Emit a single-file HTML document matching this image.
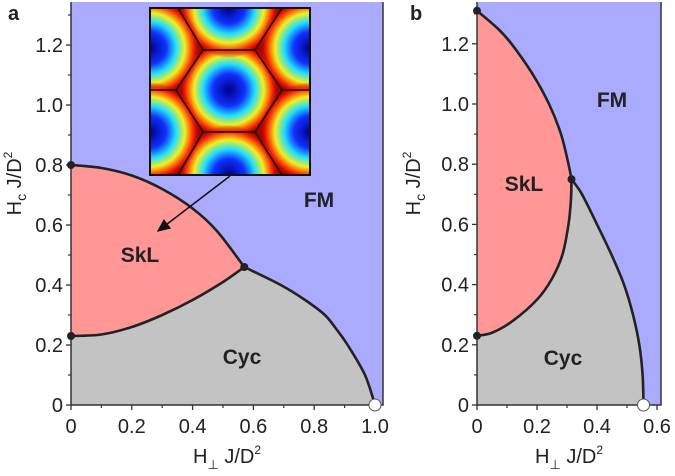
<!DOCTYPE html>
<html><head><meta charset="utf-8"><style>
body{margin:0;background:#fff;}
svg text{font-family:"Liberation Sans",Arial,sans-serif;fill:#222;}
</style></head><body>
<svg id="c" width="675" height="471" viewBox="0 0 675 471" xmlns="http://www.w3.org/2000/svg">
<defs>
<radialGradient id="sk">
<stop offset="0" stop-color="#00008a"/><stop offset="0.32" stop-color="#1030ff"/><stop offset="0.52" stop-color="#20e0ff"/><stop offset="0.7" stop-color="#f0f020"/><stop offset="0.86" stop-color="#ff3000"/><stop offset="1" stop-color="#b00000" stop-opacity="0"/>
</radialGradient>
<clipPath id="insclip"><rect x="150" y="8" width="160" height="167"/></clipPath>
<marker id="ah" markerWidth="10" markerHeight="10" refX="8" refY="5" orient="auto"><path d="M0,1 L9,5 L0,9 Z" fill="#111"/></marker>
</defs>
<g id="pa"></g>
<g id="pb"></g>
</svg>
<script>
// Panel a data
const aSklFmX=[0,0.1,0.2,0.3,0.4,0.48,0.57];
const aSklFmY=[0.8,0.79,0.765,0.72,0.655,0.58,0.46];
const aSklCycX=[0,0.1,0.2,0.3,0.4,0.5,0.57];
const aSklCycY=[0.23,0.235,0.26,0.3,0.35,0.41,0.46];
const aCycFmX=[0.57,0.69,0.77,0.835,0.875,0.91,0.967,1.0];
const aCycFmY=[0.46,0.4,0.35,0.3,0.25,0.2,0.1,0];
const aXTicks=["0","0.2","0.4","0.6","0.8","1.0"];
const aXTickVals=[0,0.2,0.4,0.6,0.8,1.0];
const aYTicks=["0","0.2","0.4","0.6","0.8","1.0","1.2"];
const aYTickVals=[0,0.2,0.4,0.6,0.8,1.0,1.2];
// Panel b data
const bSklFmX=[0,0.07,0.115,0.185,0.24,0.28,0.305,0.315];
const bSklFmY=[1.31,1.25,1.2,1.1,1.0,0.9,0.8,0.75];
const bSklCycX=[0,0.05,0.12,0.2,0.25,0.285,0.305,0.313,0.315];
const bSklCycY=[0.23,0.24,0.28,0.35,0.42,0.5,0.6,0.68,0.75];
const bCycFmX=[0.315,0.35,0.4,0.448,0.49,0.52,0.541,0.552,0.555];
const bCycFmY=[0.75,0.7,0.6,0.5,0.4,0.3,0.2,0.1,0];
const bXTicks=["0","0.2","0.4","0.6"];
const bXTickVals=[0,0.2,0.4,0.6];
const bYTicks=aYTicks, bYTickVals=aYTickVals;

const NS="http://www.w3.org/2000/svg";
function mk(p,t,a){const e=document.createElementNS(NS,t);for(const k in a)e.setAttribute(k,a[k]);p.appendChild(e);return e;}
function smooth(pts){let d="M"+pts[0][0]+","+pts[0][1];for(let i=1;i<pts.length;i++){const p0=pts[Math.max(i-2,0)],p1=pts[i-1],p2=pts[i],p3=pts[Math.min(i+1,pts.length-1)];d+=" C"+(p1[0]+(p2[0]-p0[0])/6)+","+(p1[1]+(p2[1]-p0[1])/6)+" "+(p2[0]-(p3[0]-p1[0])/6)+","+(p2[1]-(p3[1]-p1[1])/6)+" "+p2[0]+","+p2[1];}return d;}

function panel(g,o){
 const X=v=>o.x0+v*o.sx, Y=v=>o.y0-v*o.sy;
 const mp=(xs,ys)=>xs.map((v,i)=>[X(v),Y(ys[i])]);
 const fm=mp(o.fmX,o.fmY), sc=mp(o.scX,o.scY), cf=mp(o.cfX,o.cfY);
 let r=mk(g,"rect",{x:o.x0,y:o.top,width:o.right-o.x0,height:o.y0-o.top,fill:"#aaaaff"});
 
 const cycD=smooth(sc)+" "+smooth(cf).replace(/^M[^ ]+/,"")+" L"+X(0)+","+Y(0)+" Z";
 r=mk(g,"path",{d:cycD,fill:"#c3c3c3"});
 
 const sklD=smooth(fm)+" "+smooth(sc.slice().reverse()).replace(/^M[^ ]+/,"")+" Z";
 r=mk(g,"path",{d:sklD,fill:"#ff9797"});
 
 [[fm,'skl-fm-boundary'],[sc,'skl-cyc-boundary'],[cf,'cyc-fm-boundary']].forEach(([p,n])=>{
  const e=mk(g,"path",{d:smooth(p),fill:"none",stroke:"#222","stroke-width":2.6});
  
 });
 let ax=mk(g,"path",{d:`M${o.x0},${o.top} V${o.y0} H${o.right} V${o.top}`,fill:"none",stroke:"#333","stroke-width":1.5});
 
 o.xtv.forEach((v,i)=>{
  mk(g,"line",{x1:X(v),x2:X(v),y1:o.y0,y2:o.y0+5,stroke:"#333","stroke-width":1.3});
  if(i<o.xtv.length-1)mk(g,"line",{x1:X(v+0.1),x2:X(v+0.1),y1:o.y0,y2:o.y0+3,stroke:"#333","stroke-width":1.2});
  const t=mk(g,"text",{x:X(v),y:o.y0+28,"font-size":20,"text-anchor":"middle"});t.textContent=o.xt[i];
  
 });
 o.ytv.forEach((v,i)=>{
  mk(g,"line",{x1:o.x0-5,x2:o.x0,y1:Y(v),y2:Y(v),stroke:"#333","stroke-width":1.3});
  mk(g,"line",{x1:o.x0-3,x2:o.x0,y1:Y(v+0.1),y2:Y(v+0.1),stroke:"#333","stroke-width":1.2});
  const t=mk(g,"text",{x:o.x0-8,y:Y(v)+7,"font-size":20,"text-anchor":"end"});t.textContent=o.yt[i];
  
 });
 [fm[0],sc[0],fm[fm.length-1]].forEach(p=>{
  const e=mk(g,"circle",{cx:p[0],cy:p[1],r:4,fill:"#222"});
 });
 const e=mk(g,"circle",{cx:cf[cf.length-1][0],cy:cf[cf.length-1][1],r:6,fill:"#fff",stroke:"#555","stroke-width":1});
 
 [["FM",o.fmL],["SkL",o.sklL],["Cyc",o.cycL]].forEach(([s,p])=>{
  const t=mk(g,"text",{x:p[0],y:p[1],"font-size":21,"font-weight":"bold","text-anchor":"middle",fill:"#333"});t.textContent=s;
  
 });
 let t=mk(g,"text",{x:o.lx,y:20,"font-size":20,"font-weight":"bold"});t.textContent=o.letter;
 
 t=mk(g,"text",{x:(o.x0+o.right)/2,y:463,"font-size":20,"text-anchor":"middle"});
 t.innerHTML='H<tspan font-size="13" dy="6">⊥</tspan><tspan dy="-6"> J/D</tspan><tspan font-size="12" dy="-9">2</tspan>';
 
 const cy=(o.top+o.y0)/2-20;
 t=mk(g,"text",{x:0,y:0,"font-size":20,"text-anchor":"middle",transform:`translate(${o.ytx},${cy}) rotate(-90)`});
 t.innerHTML='H<tspan font-size="14" dy="5">c</tspan><tspan dy="-5"> J/D</tspan><tspan font-size="12" dy="-9">2</tspan>';
 
}
panel(document.getElementById("pa"),{x0:71,y0:405,sx:304,sy:300,top:2,right:383,
 fmX:aSklFmX,fmY:aSklFmY,scX:aSklCycX,scY:aSklCycY,cfX:aCycFmX,cfY:aCycFmY,
 xt:aXTicks,xtv:aXTickVals,yt:aYTicks,ytv:aYTickVals,
 fmL:[319,207],sklL:[140,262],cycL:[242,364],letter:"a",lx:8,ytx:21});
panel(document.getElementById("pb"),{x0:477,y0:405,sx:300,sy:301,top:2,right:661,
 fmX:bSklFmX,fmY:bSklFmY,scX:bSklCycX,scY:bSklCycY,cfX:bCycFmX,cfY:bCycFmY,
 xt:bXTicks,xtv:bXTickVals,yt:bYTicks,ytv:bYTickVals,
 fmL:[612,107],sklL:[524,191],cycL:[563,365],letter:"b",lx:410,ytx:420});

const svg=document.getElementById("c");
const ins=mk(svg,"g",{"clip-path":"url(#insclip)"});

mk(ins,"rect",{x:150,y:8,width:160,height:167,fill:"#a80000"});
[[229,90],[229,8],[229,175],[150,48],[150,132],[310,48],[310,132]].forEach(c=>mk(ins,"circle",{cx:c[0],cy:c[1],r:50,fill:"url(#sk)"}));
mk(ins,"path",{d:"M203,50 L255,50 L282,90 L255,132 L203,132 L176,90 Z M203,50 L178,8 M255,50 L282,8 M176,90 L150,90 M282,90 L310,90 M203,132 L178,175 M255,132 L282,175",fill:"none",stroke:"#111","stroke-width":1.5});
let fr=mk(svg,"rect",{x:150,y:8,width:160,height:167,fill:"none",stroke:"#111","stroke-width":2});

let ar=mk(svg,"line",{x1:230,y1:176,x2:158,y2:231,stroke:"#111","stroke-width":1.5,"marker-end":"url(#ah)"});

</script>
</body></html>
